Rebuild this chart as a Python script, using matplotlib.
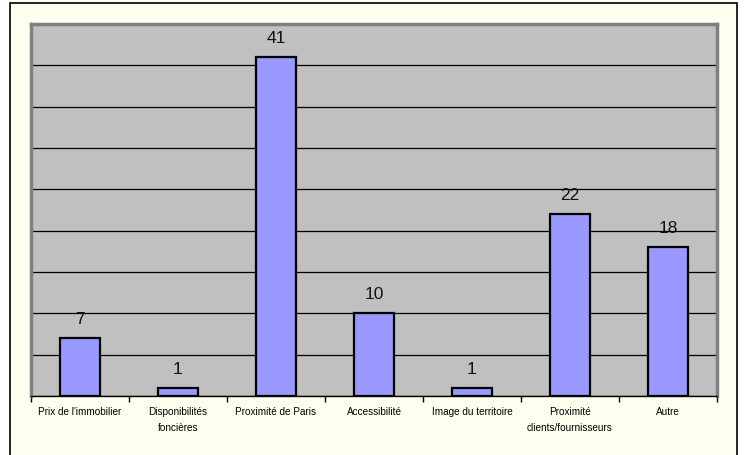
import numpy as np
import matplotlib.pyplot as plt
from matplotlib.patches import Rectangle

categories = ["Prix de l'immobilier", "Disponibilités\nfoncières", "Proximité de Paris",
              "Accessibilité", "Image du territoire", "Proximité\nclients/fournisseurs", "Autre"]
values = [7, 1, 41, 10, 1, 22, 18]

plt.rcParams['font.family'] = ['Liberation Sans', 'DejaVu Sans']

W, H = 744, 455
fig = plt.figure(figsize=(W / 100, H / 100), dpi=100, facecolor="white")

# cadre crème autour du graphique
fig.patches.append(Rectangle((10 / W, -0.05), 727 / W, 1.05 - 3 / H, transform=fig.transFigure,
                             facecolor="#FFFFF0", edgecolor="black", linewidth=1.2, zorder=-1))

ax = fig.add_axes([31 / W, 1 - 396 / H, (717 - 31) / W, (396 - 24) / H])
ax.set_zorder(1)
ax.set_facecolor("#C0C0C0")

x = np.arange(len(values))
ax.bar(x, values, width=0.41, color="#9999FF", edgecolor="black", linewidth=1.6, zorder=3)

for xi, v in zip(x, values):
    ax.annotate(str(v), (xi, v), xytext=(0, 11), textcoords="offset pixels",
                ha="center", va="bottom", fontsize=12.5, color="#111111")

ax.set_xlim(-0.5, len(values) - 0.5)
ax.set_ylim(0, 45)
ax.set_yticks(np.arange(0, 46, 5))
ax.yaxis.grid(True, color="black", linewidth=0.9, zorder=1)
ax.tick_params(axis="y", left=False, labelleft=False)

ax.set_xticks(x)
ax.set_xticklabels(categories, fontsize=7.2, linespacing=1.75)
ax.tick_params(axis="x", length=0, pad=8)
ax.set_xticks(np.arange(len(values) + 1) - 0.5, minor=True)
ax.tick_params(axis="x", which="minor", length=4, width=1, direction="out")

for side in ("top", "left", "right"):
    ax.spines[side].set_color("#808080")
    ax.spines[side].set_linewidth(2.5)
ax.spines["bottom"].set_color("black")
ax.spines["bottom"].set_linewidth(1)

fig.savefig("out.png", dpi=100, facecolor=fig.get_facecolor())
